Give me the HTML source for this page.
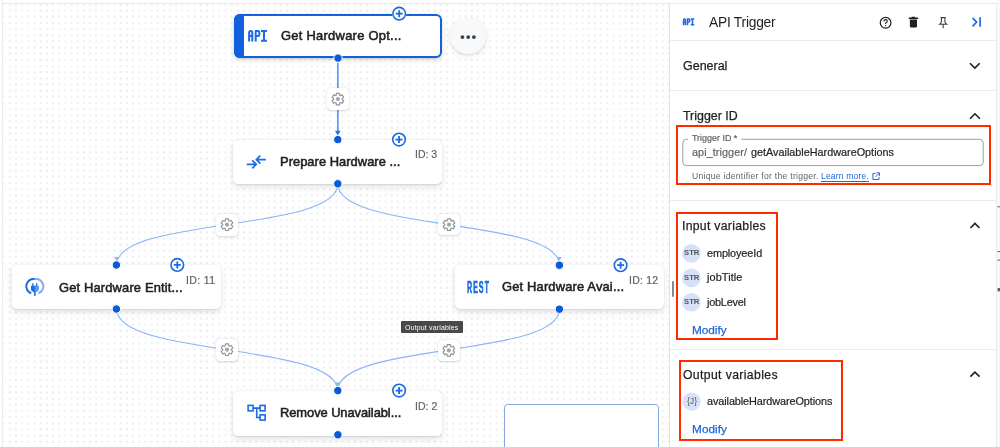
<!DOCTYPE html>
<html><head><meta charset="utf-8">
<style>
*{box-sizing:border-box;margin:0;padding:0}
html,body{width:1000px;height:447px;overflow:hidden;background:#fff;font-family:"Liberation Sans",sans-serif}
.abs{position:absolute}
.t{position:absolute;white-space:pre;line-height:1;will-change:transform;font-family:"Liberation Sans",sans-serif}
#canvas{position:absolute;left:3px;top:4px;width:666px;height:443px;
 background-image:repeating-linear-gradient(90deg,#fff 0,#fff 2.05px,#e4e5e8 2.75px,#e4e5e8 3.4px,#fff 4.1px,#fff 6.158px),repeating-linear-gradient(180deg,#fff 0,#fff 2.05px,#e4e5e8 2.75px,#e4e5e8 3.4px,#fff 4.1px,#fff 6.158px);
 background-blend-mode:lighten;background-position:3.85px 3.55px;}
.node{position:absolute;width:209px;height:44px;background:#fff;border-radius:5.5px;
 box-shadow:0 2.5px 6px rgba(60,64,67,.15),0 0.5px 1.5px rgba(60,64,67,.10)}
.gear{position:absolute;width:21.5px;height:21.5px;background:#fff;border-radius:4.5px;
 box-shadow:0 0.8px 2px rgba(60,64,67,.18),0 0.5px 4px rgba(60,64,67,.06)}
.line{position:absolute;background:#ebebee}
.redbox{position:absolute;border:2px solid #ff2a00}
</style></head><body>
<div id="canvas"></div>
<!-- canvas frame lines -->
<div class="line" style="left:2px;top:3px;width:994px;height:1px;background:#e9e9ec"></div>
<div class="line" style="left:2px;top:0;width:1px;height:447px;background:#ececef"></div>

<!-- edges -->
<svg class="abs" style="left:0;top:0" width="669" height="447" viewBox="0 0 669 447">
 <g fill="none" stroke="#8ab4f8" stroke-width="1.1">
  <path d="M337.8,184 C337.8,232 116.5,217 116.5,265"/>
  <path d="M337.8,184 C337.8,232 559.4,217.2 559.4,265.2"/>
  <path d="M116.5,309 C116.5,357 337.7,342.6 337.7,390.6"/>
  <path d="M559.4,309.2 C559.4,357.2 337.7,342.6 337.7,390.6"/>
 </g>
 <g fill="#8ab4f8">
  <path d="M113.9,256.9 L118.9,256.9 L116.4,260.4 Z"/>
  <path d="M556.9,257.1 L561.9,257.1 L559.4,260.6 Z"/>
  <path d="M335.2,382.6 L340.2,382.6 L337.7,386.1 Z"/>
 </g>
 <path d="M337.9,62.5 V132" stroke="#4f8cf0" stroke-width="1.5" fill="none"/>
 <path d="M335,130.8 L340.6,130.8 L337.8,135.4 Z" fill="#2a6fe6"/>

</svg>

<!-- gears -->
<div class="gear" style="left:327.1px;top:88.4px"></div>
<div class="gear" style="left:216.2px;top:214px"></div>
<div class="gear" style="left:438.2px;top:213.9px"></div>
<div class="gear" style="left:216.2px;top:339px"></div>
<div class="gear" style="left:438px;top:339.7px"></div>
<svg class="abs" style="left:0;top:0" width="669" height="447" viewBox="0 0 669 447">
 <defs>
  <g id="gearI">
   <path d="M1.75,-3.93 L1.55,-5.80 L-1.55,-5.80 L-1.75,-3.93 L-2.53,-3.48 L-4.24,-4.24 L-5.80,-1.55 L-4.28,-0.45 L-4.28,0.45 L-5.80,1.55 L-4.24,4.24 L-2.53,3.48 L-1.75,3.93 L-1.55,5.80 L1.55,5.80 L1.75,3.93 L2.53,3.48 L4.24,4.24 L5.80,1.55 L4.28,0.45 L4.28,-0.45 L5.80,-1.55 L4.24,-4.24 L2.53,-3.48 Z" fill="none" stroke="#8f9398" stroke-width="1.15" stroke-linejoin="round"/>
   <circle r="2.1" fill="#a3a6aa"/>
  </g>
 </defs>
 <use href="#gearI" x="337.9" y="99.1"/>
 <use href="#gearI" x="227" y="224.7"/>
 <use href="#gearI" x="449" y="224.6"/>
 <use href="#gearI" x="227" y="349.7"/>
 <use href="#gearI" x="448.8" y="350.4"/>
</svg>

<!-- nodes -->
<div class="node" style="left:233.6px;top:14.1px;height:44px;width:208.4px;border:2px solid #1160de;border-radius:6px;box-shadow:0 2px 5px rgba(60,64,67,.18),0 0.5px 1.5px rgba(60,64,67,.12)">
 <div class="abs" style="left:-2px;top:-2px;bottom:-2px;width:10.3px;background:#1160de;border-radius:6px 0 0 6px"></div>
</div>
<div class="node" style="left:233.3px;top:139.8px"></div>
<div class="node" style="left:11.9px;top:265.1px"></div>
<div class="node" style="left:454.9px;top:265.2px"></div>
<div class="node" style="left:233.3px;top:390.7px;height:45px"></div>

<svg class="abs" style="left:0;top:0" width="669" height="447" viewBox="0 0 669 447">

 <g fill="#0b5ad8" stroke="#fff" stroke-width="1">
  <circle cx="338" cy="58.1" r="4.2"/>
  <circle cx="337.8" cy="139.6" r="4.2"/>
  <circle cx="337.8" cy="183.8" r="4.2"/>
  <circle cx="116.4" cy="265" r="4.2"/>
  <circle cx="116.4" cy="309" r="4.2"/>
  <circle cx="559.4" cy="265.2" r="4.2"/>
  <circle cx="559.4" cy="309.2" r="4.2"/>
  <circle cx="337.8" cy="390.6" r="4.2"/>
  <circle cx="337.9" cy="434.8" r="4.2"/>
 </g>
</svg>
<!-- node icons -->
<svg class="abs" style="left:0;top:0" width="669" height="447" viewBox="0 0 669 447">
 <!-- API logo -->
 <g id="apiLogo" fill="none" stroke="#1a6be4" stroke-width="2">
  <path d="M249.1,41.6 V33 Q249.1,31.1 250.7,31.1 Q252.3,31.1 252.3,33 V41.6 M249.1,36.1 H252.3"/>
  <path d="M255.7,41.6 V31.1 H257.8 Q259.3,31.1 259.3,32.6 V34.4 Q259.3,35.9 257.8,35.9 H255.7"/>
  <path d="M261,31.1 H267 M261,40.7 H267 M264,31.1 V40.7"/>
 </g>
 <!-- data mapping arrows -->
 <g fill="none" stroke="#1a6be4" stroke-width="1.7" stroke-linecap="square" stroke-linejoin="miter">
  <path d="M247.6,164.3 H256 M252.8,160.9 L256.2,164.3 L252.8,167.7"/>
  <path d="M265,159.6 H256.6 M259.8,156.2 L256.4,159.6 L259.8,163"/>
 </g>
 <!-- connector plug -->
 <g fill="none" stroke-width="2">
  <path d="M31.2,293.3 A7.4,7.4 0 0 1 34.8,279" stroke="#1a6be4"/>
  <path d="M34.8,279 A7.4,7.4 0 0 1 38.4,293.3" stroke="#7eacf7"/>
 </g>
 <g fill="#1a6be4">
  <rect x="32.2" y="283.2" width="1.3" height="3"/>
  <rect x="36" y="283.2" width="1.3" height="3"/>
  <path d="M31,285.8 H38.5 V289 Q38.5,291.6 35.6,291.9 V295.8 H33.9 V291.9 Q31,291.6 31,289 Z"/>
 </g>
 <path d="M34.75,285.8 H38.5 V289 Q38.5,291.6 35.6,291.9 V295.8 H34.75 Z" fill="#5b95f2"/>
 <!-- account tree -->
 <g fill="none" stroke="#1a6be4" stroke-width="1.6">
  <rect x="248.1" y="405.4" width="5" height="5.4"/>
  <rect x="260.1" y="405.4" width="5" height="5.4"/>
  <rect x="260.1" y="414.9" width="5" height="5.2"/>
  <path d="M253.1,408.1 H260.1 M256.7,408.1 V417.5 H260.1"/>
 </g>
</svg>
<div class="t" style="left:466.7px;top:279.7px;font-size:15.6px;font-weight:bold;color:#1a6be4;-webkit-text-stroke:0.6px #1a6be4;letter-spacing:2.2px;transform:scaleX(0.455);transform-origin:0 0">REST</div>

<!-- plus buttons -->
<svg class="abs" style="left:0;top:0" width="669" height="447" viewBox="0 0 669 447">
 <defs>
  <g id="plusI">
   <circle r="7.3" fill="#fff"/>
   <circle r="6.3" fill="#fff" stroke="#1a67e0" stroke-width="1.6"/>
   <path d="M-3.5,0 H3.5 M0,-3.5 V3.5" stroke="#1a67e0" stroke-width="1.8"/>
  </g>
 </defs>
 <use href="#plusI" x="399.2" y="13.7"/>
 <use href="#plusI" x="399" y="139.6"/>
 <use href="#plusI" x="177.3" y="264.9"/>
 <use href="#plusI" x="620.6" y="265.2"/>
 <use href="#plusI" x="399.1" y="390.6"/>
</svg>

<!-- more button -->
<div class="abs" style="left:450.3px;top:18px;width:36px;height:36px;border-radius:50%;background:#f8f9fb;box-shadow:0 1px 3px rgba(60,64,67,.13),0 2px 7px rgba(60,64,67,.08)"></div>
<svg class="abs" style="left:0;top:0" width="669" height="60" viewBox="0 0 669 60">
 <g fill="#3c4043"><circle cx="462.4" cy="37.1" r="1.9"/><circle cx="468.2" cy="37.1" r="1.9"/><circle cx="473.9" cy="37.1" r="1.9"/></g>
</svg>

<!-- tooltip -->
<div class="abs" style="left:401px;top:321.4px;width:62.3px;height:11.4px;background:#47494b;border-radius:1px"></div>

<!-- minimap -->
<div class="abs" style="left:504px;top:403.5px;width:155.2px;height:60px;border:1.2px solid #86a9dd;border-radius:3.5px;background:#fff"></div>

<!-- PANEL -->
<div class="abs" style="left:669px;top:3px;width:328px;height:444px;background:#fff;border-left:1px solid #e3e3e6;border-right:1px solid #ebebee"></div>
<div class="abs" style="left:997px;top:0;width:3px;height:447px;background:#f8f9fb"></div>
<div class="line" style="left:669px;top:3px;width:328px;height:1px;background:#e9e9ec"></div>
<div class="line" style="left:670px;top:40px;width:326px;height:1px"></div>
<div class="line" style="left:670px;top:90px;width:326px;height:1px"></div>
<div class="line" style="left:670px;top:200px;width:326px;height:1px"></div>
<div class="line" style="left:670px;top:348.5px;width:326px;height:1px"></div>

<!-- panel resize handle -->
<div class="abs" style="left:671.9px;top:280.8px;width:2.2px;height:16.7px;background:#85888c;border-radius:1px"></div>

<!-- header icons -->
<svg class="abs" style="left:669px;top:0" width="331" height="447" viewBox="669 0 331 447">
 <!-- small API -->
 <g transform="translate(683,18.5) scale(0.6) translate(-248.2,-30.2)">
  <g fill="none" stroke="#1a6be4" stroke-width="2.6">
   <path d="M249.1,41.6 V33 Q249.1,31.1 250.7,31.1 Q252.3,31.1 252.3,33 V41.6 M249.1,36.1 H252.3"/>
   <path d="M255.7,41.6 V31.1 H257.8 Q259.3,31.1 259.3,32.6 V34.4 Q259.3,35.9 257.8,35.9 H255.7"/>
   <path d="M261,31.1 H267 M261,40.7 H267 M264,31.1 V40.7"/>
  </g>
 </g>
 <!-- help -->
 <circle cx="885.6" cy="22.8" r="5.35" fill="none" stroke="#202124" stroke-width="1.2"/>
 <path d="M883.9,21.4 Q883.9,19.6 885.6,19.6 Q887.3,19.6 887.3,21.2 Q887.3,22.1 886.3,22.6 Q885.6,23 885.6,24" fill="none" stroke="#202124" stroke-width="1.1"/>
 <circle cx="885.6" cy="25.6" r="0.65" fill="#202124"/>
 <!-- trash -->
 <path d="M909.9,19.6 H917 V26.2 Q917,27.5 915.7,27.5 H911.2 Q909.9,27.5 909.9,26.2 Z" fill="#202124"/>
 <path d="M908.7,17.6 H918.2 V18.9 H908.7 Z M911.6,16.8 H915.3 V17.8 H911.6 Z" fill="#202124"/>
 <!-- pin -->
 <path d="M940.6,17.6 H945.7 M941.4,17.6 V21.4 Q941.4,23 939.7,24.3 H946.6 Q944.9,23 944.9,21.4 V17.6 M943.15,24.3 V28.3" fill="none" stroke="#3c4043" stroke-width="1.1"/>
 <!-- last page -->
 <path d="M972.6,17.9 L976.6,22.1 L972.6,26.3" fill="none" stroke="#1a6be4" stroke-width="1.7"/>
 <path d="M980.1,17.3 V26.8" stroke="#1a6be4" stroke-width="1.7"/>
 <!-- chevrons -->
 <g fill="none" stroke="#1f1f1f" stroke-width="1.6">
  <path d="M970,63.2 L974.85,68 L979.7,63.2"/>
  <path d="M970,118.8 L974.95,113.8 L979.9,118.8"/>
  <path d="M970.4,228 L974.95,223.4 L979.5,228"/>
  <path d="M970.4,376.6 L974.95,372.1 L979.5,376.6"/>
 </g>
 <!-- input field -->
 <path d="M688,139.3 H686.3 Q682.8,139.3 682.8,142.8 V162.1 Q682.8,165.6 686.3,165.6 H979.7 Q983.2,165.6 983.2,162.1 V142.8 Q983.2,139.3 979.7,139.3 H741.4" fill="none" stroke="#9a9da1" stroke-width="1"/>
 <!-- external link -->
 <path d="M875.5,173.4 H872.9 V179.5 H879 V177" fill="none" stroke="#1a66db" stroke-width="0.95"/>
 <path d="M876.3,172.9 H879.5 V176.1 M879.4,173 L875.6,176.8" fill="none" stroke="#1a66db" stroke-width="0.95"/>
 <!-- badges -->
 <g fill="#d6e1f8">
  <circle cx="691.4" cy="253.4" r="9.3"/>
  <circle cx="691.4" cy="277.9" r="9.3"/>
  <circle cx="691.4" cy="302.3" r="9.3"/>
  <circle cx="691.5" cy="401.6" r="9.2"/>
 </g>
 <!-- edge marks -->
 <g fill="#5f6368">
  <rect x="997.4" y="206.3" width="2.6" height="1"/>
  <rect x="997.4" y="251.1" width="2.6" height="1"/>
  <rect x="997.4" y="259.6" width="2.6" height="1"/>
  <rect x="997.6" y="288" width="2.4" height="3.4"/>
 </g>
</svg>
<div class="t" style="left:683.9px;top:249.2px;font-size:7.7px;font-weight:bold;color:#54585d">STR</div>
<div class="t" style="left:683.9px;top:273.7px;font-size:7.7px;font-weight:bold;color:#54585d">STR</div>
<div class="t" style="left:683.9px;top:298.1px;font-size:7.7px;font-weight:bold;color:#54585d">STR</div>
<div class="t" style="left:686.8px;top:397.3px;font-size:8.6px;color:#55595e">{J}</div>

<!-- red highlight boxes -->
<div class="redbox" style="left:676px;top:125.2px;width:315px;height:60px"></div>
<div class="redbox" style="left:676.3px;top:211.6px;width:101.3px;height:128.4px"></div>
<div class="redbox" style="left:679.2px;top:360.2px;width:163.5px;height:80.8px"></div>

<div class='t' style='left:281.00px;top:30.28px;font-size:12.9px;letter-spacing:0.281px;color:#1f1f1f;font-weight:normal;-webkit-text-stroke:0.55px #1f1f1f;'>Get Hardware Opt...</div>
<div class='t' style='left:280.20px;top:156.18px;font-size:12.9px;letter-spacing:0.034px;color:#1f1f1f;font-weight:normal;-webkit-text-stroke:0.55px #1f1f1f;'>Prepare Hardware ...</div>
<div class='t' style='left:58.50px;top:281.68px;font-size:12.9px;letter-spacing:0.162px;color:#1f1f1f;font-weight:normal;-webkit-text-stroke:0.55px #1f1f1f;'>Get Hardware Entit...</div>
<div class='t' style='left:501.80px;top:281.48px;font-size:12.9px;letter-spacing:0.174px;color:#1f1f1f;font-weight:normal;-webkit-text-stroke:0.55px #1f1f1f;'>Get Hardware Avai...</div>
<div class='t' style='left:279.70px;top:407.18px;font-size:12.9px;letter-spacing:-0.065px;color:#1f1f1f;font-weight:normal;-webkit-text-stroke:0.55px #1f1f1f;'>Remove Unavailabl...</div>
<div class='t' style='left:414.60px;top:149.11px;font-size:10.5px;letter-spacing:0.003px;color:#5f6368;font-weight:normal;-webkit-text-stroke:0.2px #5f6368;'>ID: 3</div>
<div class='t' style='left:186.20px;top:275.11px;font-size:10.5px;letter-spacing:0.353px;color:#5f6368;font-weight:normal;-webkit-text-stroke:0.2px #5f6368;'>ID: 11</div>
<div class='t' style='left:629.40px;top:275.01px;font-size:10.5px;letter-spacing:0.237px;color:#5f6368;font-weight:normal;-webkit-text-stroke:0.2px #5f6368;'>ID: 12</div>
<div class='t' style='left:414.80px;top:400.61px;font-size:10.5px;letter-spacing:0.053px;color:#5f6368;font-weight:normal;-webkit-text-stroke:0.2px #5f6368;'>ID: 2</div>
<div class='t' style='left:405.00px;top:323.57px;font-size:7.0px;letter-spacing:0.154px;color:#ffffff;font-weight:normal;'>Output variables</div>
<div class='t' style='left:709.00px;top:16.32px;font-size:13.8px;letter-spacing:-0.242px;color:#1f1f1f;font-weight:normal;'>API Trigger</div>
<div class='t' style='left:682.70px;top:59.52px;font-size:12.5px;letter-spacing:-0.014px;color:#1f1f1f;font-weight:normal;-webkit-text-stroke:0.25px #1f1f1f;'>General</div>
<div class='t' style='left:682.60px;top:110.40px;font-size:12.4px;letter-spacing:0.008px;color:#1f1f1f;font-weight:normal;-webkit-text-stroke:0.25px #1f1f1f;'>Trigger ID</div>
<div class='t' style='left:682.20px;top:219.57px;font-size:12.2px;letter-spacing:0.308px;color:#1f1f1f;font-weight:normal;-webkit-text-stroke:0.25px #1f1f1f;'>Input variables</div>
<div class='t' style='left:683.20px;top:368.87px;font-size:12.2px;letter-spacing:0.383px;color:#1f1f1f;font-weight:normal;-webkit-text-stroke:0.25px #1f1f1f;'>Output variables</div>
<div class='t' style='left:692.30px;top:134.17px;font-size:8.9px;letter-spacing:0.023px;color:#5f6368;font-weight:normal;-webkit-text-stroke:0.2px #5f6368;'>Trigger ID *</div>
<div class='t' style='left:691.70px;top:147.36px;font-size:10.8px;letter-spacing:0.079px;color:#5f6368;font-weight:normal;-webkit-text-stroke:0.2px #5f6368;'>api_trigger/</div>
<div class='t' style='left:751.00px;top:147.36px;font-size:10.8px;letter-spacing:0.013px;color:#1f1f1f;font-weight:normal;-webkit-text-stroke:0.2px #1f1f1f;'>getAvailableHardwareOptions</div>
<div class='t' style='left:691.60px;top:172.02px;font-size:8.6px;letter-spacing:0.269px;color:#5f6368;font-weight:normal;'>Unique identifier for the trigger.</div>
<div class='t' style='left:821.00px;top:172.02px;font-size:8.6px;letter-spacing:0.136px;color:#1a66db;font-weight:normal;text-decoration:underline;text-underline-offset:1.5px;'>Learn more.</div>
<div class='t' style='left:707.00px;top:247.57px;font-size:10.9px;letter-spacing:-0.124px;color:#1f1f1f;font-weight:normal;-webkit-text-stroke:0.2px #1f1f1f;'>employeeId</div>
<div class='t' style='left:706.90px;top:272.37px;font-size:10.9px;letter-spacing:0.100px;color:#1f1f1f;font-weight:normal;-webkit-text-stroke:0.2px #1f1f1f;'>jobTitle</div>
<div class='t' style='left:706.90px;top:296.97px;font-size:10.9px;letter-spacing:-0.225px;color:#1f1f1f;font-weight:normal;-webkit-text-stroke:0.2px #1f1f1f;'>jobLevel</div>
<div class='t' style='left:691.70px;top:324.51px;font-size:11.8px;letter-spacing:-0.030px;color:#1a66db;font-weight:normal;-webkit-text-stroke:0.25px #1a66db;'>Modify</div>
<div class='t' style='left:707.00px;top:395.87px;font-size:10.9px;letter-spacing:-0.101px;color:#1f1f1f;font-weight:normal;-webkit-text-stroke:0.2px #1f1f1f;'>availableHardwareOptions</div>
<div class='t' style='left:692.00px;top:424.11px;font-size:11.8px;letter-spacing:0.050px;color:#1a66db;font-weight:normal;-webkit-text-stroke:0.25px #1a66db;'>Modify</div>
</body></html>
